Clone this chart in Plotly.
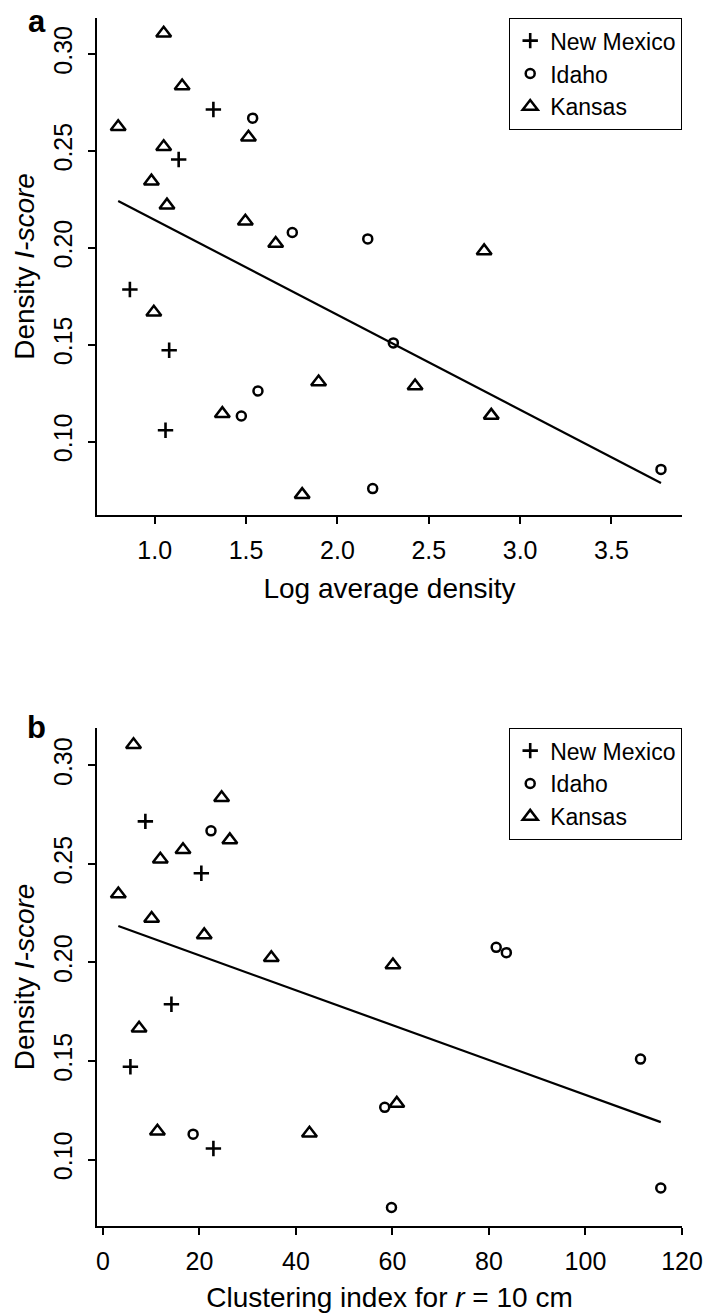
import plotly.graph_objects as go

# ---------------- data: panel a (Log average density) ----------------
nm_a_x = [1.321, 1.131, 0.864, 1.079, 1.059]
nm_a_y = [0.2714, 0.2456, 0.1785, 0.1471, 0.1058]

id_a_x = [1.536, 1.753, 2.166, 2.306, 1.565, 1.474, 2.193, 3.771]
id_a_y = [0.2669, 0.2079, 0.2046, 0.1509, 0.1261, 0.1132, 0.0757, 0.0856]

ks_a_x = [1.049, 1.150, 0.800, 1.049, 1.513, 0.982, 1.067, 1.496, 1.662, 2.803,
          0.995, 1.897, 2.425, 1.370, 2.842, 1.807]
ks_a_y = [0.3107, 0.2835, 0.2625, 0.2521, 0.2570, 0.2344, 0.2220, 0.2137, 0.2022, 0.1984,
          0.1667, 0.1307, 0.1287, 0.1144, 0.1135, 0.0726]

fit_a = [0.2634, -0.0490]   # intercept, slope

# ---------------- data: panel b (Clustering index) ----------------
nm_b_x = [8.8, 20.4, 14.2, 5.7, 22.9]
nm_b_y = [0.2716, 0.2453, 0.1788, 0.1471, 0.1056]

id_b_x = [22.4, 81.5, 83.6, 111.4, 58.4, 18.7, 59.8, 115.6]
id_b_y = [0.2668, 0.2077, 0.2050, 0.1510, 0.1265, 0.1129, 0.0757, 0.0856]

ks_b_x = [6.35, 24.6, 26.3, 16.6, 11.9, 3.2, 10.1, 21.0, 34.9, 60.1, 7.5, 60.9, 11.3, 42.8]
ks_b_y = [0.3105, 0.2836, 0.2622, 0.2572, 0.2524, 0.2347, 0.2223, 0.2140, 0.2024, 0.1987,
          0.1666, 0.1285, 0.1144, 0.1133]

fit_b = [0.2213, -0.000885]  # intercept, slope

y_ticks = [0.10, 0.15, 0.20, 0.25, 0.30]
x_ticks_a = [1.0, 1.5, 2.0, 2.5, 3.0, 3.5]
x_ticks_b = [0, 20, 40, 60, 80, 100, 120]

series_names = ["New Mexico", "Idaho", "Kansas"]

FONT = "Liberation Sans, Arial, Helvetica, sans-serif"
BLACK = "#000000"

sym_styles = [
    dict(symbol="cross-thin-open", size=11, line=dict(width=2.6, color=BLACK), color=BLACK),
    dict(symbol="circle-open", size=9, line=dict(width=2.5, color=BLACK), color=BLACK),
    dict(symbol="triangle-up-open", size=13, line=dict(width=2.5, color=BLACK), color=BLACK),
]

fig = go.Figure()

panels = [
    ("x", "y", "legend", [(nm_a_x, nm_a_y), (id_a_x, id_a_y), (ks_a_x, ks_a_y)], fit_a),
    ("x2", "y2", "legend2", [(nm_b_x, nm_b_y), (id_b_x, id_b_y), (ks_b_x, ks_b_y)], fit_b),
]

for xa, ya, leg, groups, fit in panels:
    all_x = []
    for (gx, gy), name, st in zip(groups, series_names, sym_styles):
        all_x += gx
        fig.add_trace(go.Scatter(
            x=gx, y=gy, mode="markers", name=name, marker=st,
            xaxis=xa, yaxis=ya, legend=leg, showlegend=True,
        ))
    x0, x1 = min(all_x), max(all_x)
    fig.add_trace(go.Scatter(
        x=[x0, x1], y=[fit[0] + fit[1] * x0, fit[0] + fit[1] * x1],
        mode="lines", line=dict(color=BLACK, width=2.2),
        xaxis=xa, yaxis=ya, showlegend=False, hoverinfo="skip",
    ))

axis_common = dict(
    showline=True, linecolor=BLACK, linewidth=1.5, mirror=False,
    ticks="outside", ticklen=7, tickwidth=1.5, tickcolor=BLACK,
    showgrid=False, zeroline=False, automargin=False,
    tickfont=dict(family=FONT, size=25, color=BLACK),
)
title_font = dict(family=FONT, size=28, color=BLACK)

dom_a = [0.5886, 1.0]
dom_b = [0.0, 0.4123]

fig.update_layout(
    width=704, height=1313,
    margin=dict(l=97, r=22, t=18, b=87, autoexpand=False),
    paper_bgcolor="white", plot_bgcolor="white",
    font=dict(family=FONT, color=BLACK),
    xaxis=dict(axis_common, domain=[0, 1], anchor="y", range=[0.684, 3.886],
               tickvals=x_ticks_a, tickformat=".1f", ticklabelstandoff=5,
               title=dict(text="Log average density", standoff=16, font=title_font)),
    yaxis=dict(axis_common, domain=dom_a, anchor="x", range=[0.0621, 0.3186],
               tickvals=y_ticks, tickformat=".2f", tickangle=-90, ticklabelstandoff=6,
               title=dict(text="Density <i>I-score</i>", standoff=6, font=title_font)),
    xaxis2=dict(axis_common, domain=[0, 1], anchor="y2", range=[-1.22, 120.0],
                tickvals=x_ticks_b, tickformat="d", ticklabelstandoff=5,
                title=dict(text="Clustering index for <i>r</i> = 10 cm", standoff=16,
                           font=title_font)),
    yaxis2=dict(axis_common, domain=dom_b, anchor="x2", range=[-0 + 0.0663, 0.3190],
                tickvals=y_ticks, tickformat=".2f", tickangle=-90, ticklabelstandoff=6,
                title=dict(text="Density <i>I-score</i>", standoff=6, font=title_font)),
    legend=dict(x=1.0, xanchor="right", y=1.0, yanchor="top",
                bordercolor=BLACK, borderwidth=1.2, bgcolor="white",
                font=dict(family=FONT, size=23, color=BLACK), tracegroupgap=0),
    legend2=dict(x=1.0, xanchor="right", y=dom_b[1], yanchor="top",
                 bordercolor=BLACK, borderwidth=1.2, bgcolor="white",
                 font=dict(family=FONT, size=23, color=BLACK), tracegroupgap=0),
    annotations=[
        dict(text="<b>a</b>", xref="paper", yref="paper", x=-0.1026, y=0.9975,
             xanchor="center", yanchor="middle", showarrow=False,
             font=dict(family=FONT, size=31, color=BLACK)),
        dict(text="<b>b</b>", xref="paper", yref="paper", x=-0.1026, y=0.4123,
             xanchor="center", yanchor="middle", showarrow=False,
             font=dict(family=FONT, size=31, color=BLACK)),
    ],
)

fig.write_html("out.html", config={"displayModeBar": False},
               post_script="document.body.style.margin='0';document.body.style.overflow='hidden';")
